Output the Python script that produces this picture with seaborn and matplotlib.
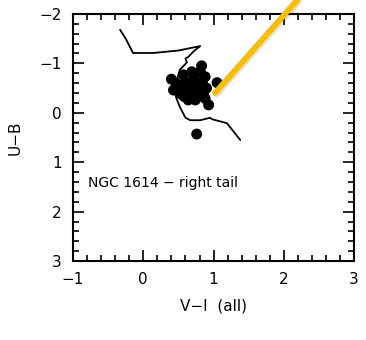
import numpy as np
import pandas as pd
import matplotlib
matplotlib.use("Agg")
import matplotlib.pyplot as plt
import matplotlib.patheffects as pe
from matplotlib.ticker import MultipleLocator
import seaborn as sns

# cluster colours (V-I, U-B)
vi_pts = [0.40, 0.43, 0.50, 0.57, 0.69, 0.83, 0.81, 0.88, 1.05, 0.90,
          0.62, 0.76, 0.69, 0.64, 0.74, 0.88, 0.93, 0.52, 0.76, 0.76,
          0.60, 0.72, 0.80, 0.55, 0.66, 0.86, 0.47, 0.58, 0.70, 0.84]
ub_pts = [-0.68, -0.46, -0.56, -0.77, -0.83, -0.95, -0.83, -0.73, -0.61, -0.50,
          -0.46, -0.53, -0.63, -0.26, -0.26, -0.29, -0.16, -0.39, -0.39, 0.43,
          -0.62, -0.70, -0.45, -0.50, -0.36, -0.42, -0.60, -0.33, -0.55, -0.62]

# evolutionary track
vi_track = [-0.33, -0.25, -0.146, 0.14, 0.50, 0.81, 0.72, 0.64, 0.60, 0.62,
            0.52, 0.45, 0.47, 0.52, 0.60, 0.67, 0.81, 0.95, 0.98, 1.19, 1.38]
ub_track = [-1.68, -1.50, -1.21, -1.21, -1.26, -1.35, -1.25, -1.13, -1.10, -1.02,
            -0.87, -0.52, -0.30, -0.12, 0.10, 0.15, 0.15, 0.10, 0.13, 0.21, 0.55]

# pointer line (start, end)
vi_ptr = [1.02, 2.19]
ub_ptr = [-0.40, -2.28]

pts = pd.DataFrame({"vi": vi_pts, "ub": ub_pts})
trk = pd.DataFrame({"vi": vi_track, "ub": ub_track})
ptr = pd.DataFrame({"vi": vi_ptr, "ub": ub_ptr})

sns.set_style("ticks")
plt.rcParams["font.family"] = ["DejaVu Sans"]
plt.rcParams.update({"text.color": "black", "axes.labelcolor": "black",
                     "xtick.color": "black", "ytick.color": "black"})

fig = plt.figure(figsize=(3.66, 3.40), dpi=100)
ax = fig.add_axes([0.1995, 0.232, 0.768, 0.727])

sns.lineplot(data=trk, x="vi", y="ub", sort=False, estimator=None,
             color="black", linewidth=1.3, ax=ax)
sns.scatterplot(data=pts, x="vi", y="ub", color="black", s=62,
                edgecolor="none", ax=ax, zorder=3)
sns.lineplot(data=ptr, x="vi", y="ub", sort=False, estimator=None,
             color="#F7BE00", linewidth=4.2, ax=ax, zorder=5,
             solid_capstyle="round",
             path_effects=[pe.SimpleLineShadow(offset=(1.2, -1.2), alpha=0.12),
                           pe.Normal()])
for l in ax.lines[-1:]:
    l.set_clip_on(False)

ax.set_xlim(-1, 3)
ax.set_ylim(3, -2)
ax.xaxis.set_minor_locator(MultipleLocator(0.2))
ax.yaxis.set_minor_locator(MultipleLocator(0.2))
ax.set_xticks([-1, 0, 1, 2, 3])
ax.set_xticklabels(["\u22121", "0", "1", "2", "3"])
ax.set_yticks([-2, -1, 0, 1, 2, 3])
ax.set_yticklabels(["\u22122", "\u22121", "0", "1", "2", "3"])
ax.tick_params(which="both", direction="in", top=True, right=True,
               color="black", width=1.2, labelsize=11, pad=8,
               labelcolor="black")
ax.tick_params(which="major", length=8)
ax.tick_params(which="minor", length=4)
for s in ax.spines.values():
    s.set_linewidth(1.5)
    s.set_color("black")

ax.set_xlabel("V\u2212I  (all)", fontsize=11, labelpad=8, color="black")
ax.set_ylabel("U\u2212B", fontsize=11, labelpad=12, color="black")
ax.text(-0.79, 1.42, "NGC 1614 \u2212 right tail", fontsize=10,
        va="center", ha="left", color="black")

fig.savefig("out.png", dpi=100)
